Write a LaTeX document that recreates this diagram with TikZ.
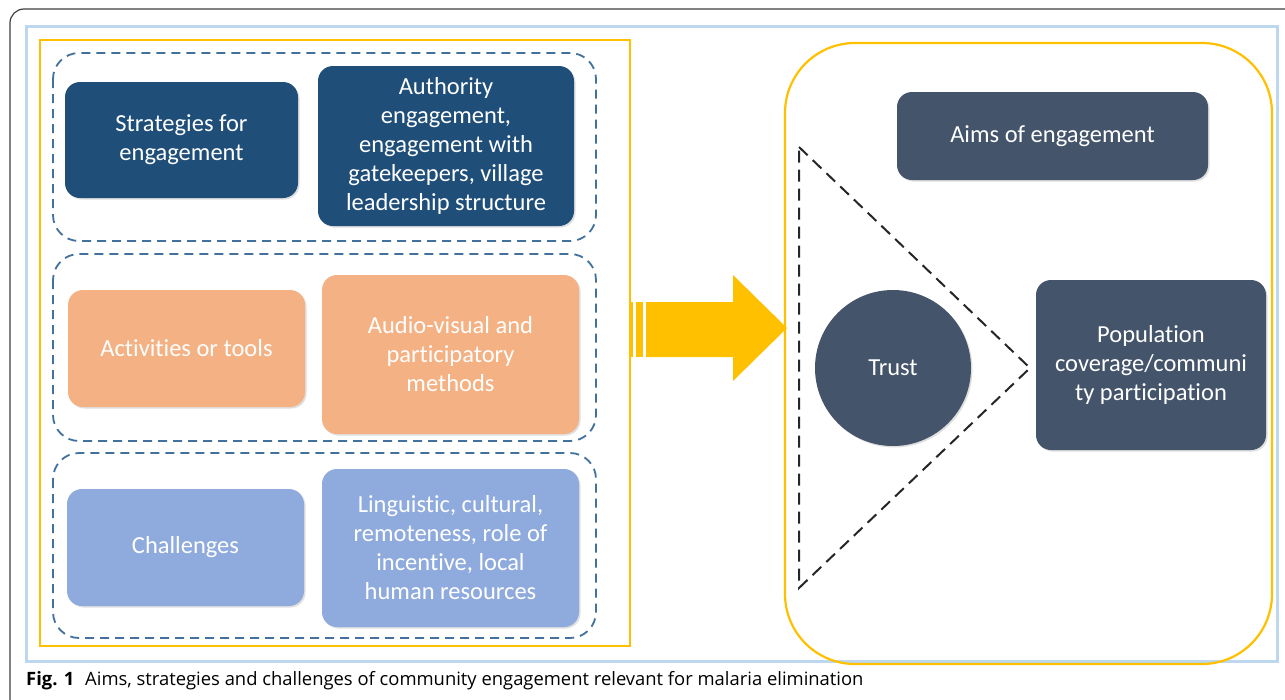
\documentclass[tikz,border=0pt]{standalone}
\usepackage{fontspec}
\setmainfont[Ligatures=NoCommon]{Carlito}
\newfontfamily\capfont{Open Sans}
\usetikzlibrary{shadows}
\definecolor{dkblue}{HTML}{1F4E79}
\definecolor{orng}{HTML}{F4B183}
\definecolor{ltblue}{HTML}{8FAADC}
\definecolor{slate}{HTML}{44546A}
\definecolor{dashblue}{HTML}{41719C}
\definecolor{gold}{HTML}{FFC000}
\definecolor{frameblue}{HTML}{BDD7EE}
\tikzset{
  boxfont/.style={font=\fontsize{24.5}{29}\selectfont},
  box/.style={rounded corners=15pt, text=white, align=center, boxfont,
    drop shadow={shadow xshift=1.5pt, shadow yshift=-1.5pt, opacity=0.25}},
  grp/.style={draw=dashblue, line width=1.8pt, rounded corners=26pt, dash pattern=on 9pt off 6pt},
}
\begin{document}
\begin{tikzpicture}[x=1pt,y=-1pt]
\useasboundingbox (0,0) rectangle (1285,699);
\clip (0,0) rectangle (1285,699);
\fill[white] (0,0) rectangle (1285,699);
% outer frame
\draw[black!75, line width=1.2pt, rounded corners=14pt] (10,9) rectangle (1310,720);
\draw[frameblue, line width=3pt] (26,26) rectangle (1277,661);
% left yellow frame
\draw[gold, line width=2.2pt] (40,40) rectangle (630,646);
% groups
\draw[grp] (53,53) rectangle (596,241);
\draw[grp] (53,254) rectangle (596,441);
\draw[grp] (53,453) rectangle (596,638);
% boxes
\node[box, fill=dkblue, minimum width=233pt, minimum height=116pt] (s1) at (181.5,140) {Strategies for\\engagement};
\node[box, fill=dkblue, minimum width=256pt, minimum height=160pt] (s2) at (446,146) {Authority\\engagement,\\engagement with\\gatekeepers, village\\leadership structure};
\node[box, fill=orng, minimum width=237pt, minimum height=117pt] (a1) at (186.5,348.5) {Activities or tools};
\node[box, fill=orng, minimum width=257pt, minimum height=159pt] (a2) at (450.5,354.5) {Audio-visual and\\participatory\\methods};
\node[box, fill=ltblue, minimum width=237pt, minimum height=117pt] (c1) at (185.5,547.5) {Challenges};
\node[box, fill=ltblue, minimum width=257pt, minimum height=158pt] (c2) at (450.5,548) {Linguistic, cultural,\\remoteness, role of\\incentive, local\\human resources};
% arrow
\fill[gold] (629,302) rectangle (633,357);
\fill[gold] (636,302) rectangle (643,357);
\fill[gold] (646,302) -- (733,302) -- (733,275) -- (787,328) -- (733,381) -- (733,357) -- (646,357) -- cycle;
% right frame
\draw[gold, line width=2.2pt, rounded corners=70pt] (785,43) rectangle (1272,664);
% triangle
\coordinate (t1) at (799,147);
\coordinate (t2) at (1030,368);
\coordinate (t3) at (799,588);
\draw[black!85, line width=2pt, dash pattern=on 12pt off 7pt] (t1) -- (t2) -- (t3) -- cycle;
% aims
\node[box, fill=slate, minimum width=311pt, minimum height=88pt] (aims) at (1052.5,136) {Aims of engagement};
\node[circle, fill=slate, text=white, minimum size=156pt, boxfont,
  drop shadow={shadow xshift=1.5pt, shadow yshift=-1.5pt, opacity=0.25}] (trust) at (893,368) {Trust};
\node[box, fill=slate, minimum width=230pt, minimum height=170pt] (pop) at (1151,365) {Population\\coverage/communi\\ty participation};
% caption
\node[anchor=west, inner sep=0pt, font=\capfont\fontsize{18.4}{22}\selectfont] (cap) at (26,681) {\textbf{Fig. 1}\hspace{6pt} Aims, strategies and challenges of community engagement relevant for malaria elimination};
\end{tikzpicture}
\end{document}
